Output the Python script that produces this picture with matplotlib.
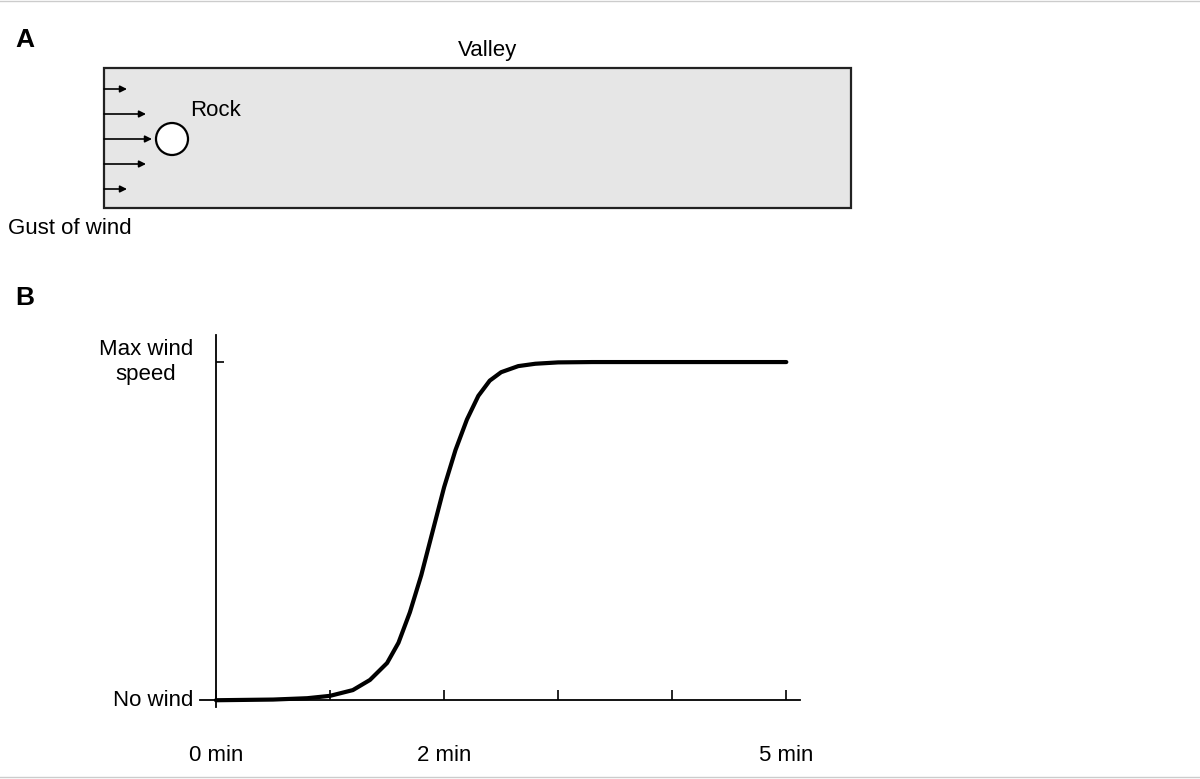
import numpy as np
import matplotlib.pyplot as plt
from matplotlib.patches import Rectangle, Circle

plt.rcParams['font.family'] = ['Liberation Sans', 'DejaVu Sans']

# wind speed curve (minutes, fraction of max)
t_min = [0.0, 0.5, 0.8, 1.0, 1.2, 1.35, 1.5, 1.6, 1.7, 1.8, 1.9, 2.0, 2.1,
         2.2, 2.3, 2.4, 2.5, 2.65, 2.8, 3.0, 3.3, 3.7, 4.2, 5.0]
speed = [0.0, 0.002, 0.006, 0.013, 0.03, 0.06, 0.11, 0.17, 0.26, 0.37, 0.50,
         0.63, 0.74, 0.83, 0.90, 0.945, 0.97, 0.988, 0.995, 0.999, 1.0, 1.0, 1.0, 1.0]
tick_pos = [0, 1, 2, 3, 4, 5]
tick_lab = ['0 min', '', '2 min', '', '', '5 min']
arrow_y = [89, 114, 139, 164, 189]
arrow_x_end = [127, 146, 152, 146, 127]

W, H = 1200, 779
fig = plt.figure(figsize=(12, 7.79), dpi=100)

# panel A drawn in pixel coordinates
ax = fig.add_axes([0, 0, 1, 1])
ax.set_xlim(0, W)
ax.set_ylim(H, 0)
ax.axis('off')
ax.plot([0, W], [1, 1], color='#cccccc', lw=1)
ax.plot([0, W], [777, 777], color='#cccccc', lw=1)
ax.text(15, 40, 'A', fontsize=19, fontweight='bold', va='center')
ax.text(15, 298, 'B', fontsize=19, fontweight='bold', va='center')
ax.add_patch(Rectangle((104, 68), 747, 140, facecolor='#e6e6e6',
                       edgecolor='#222222', lw=1.6))
ax.text(488, 50, 'Valley', fontsize=16, ha='center', va='center')
ax.add_patch(Circle((172, 139), 16, facecolor='white', edgecolor='black', lw=1.6))
ax.text(190, 110, 'Rock', fontsize=16, va='center')
for y, xe in zip(arrow_y, arrow_x_end):
    ax.annotate('', xy=(xe, y), xytext=(104, y),
                arrowprops=dict(arrowstyle='-|>', color='black', lw=1.2,
                                mutation_scale=10, shrinkA=0, shrinkB=0))
ax.text(8, 228, 'Gust of wind', fontsize=16, va='center')

# panel B
bx = fig.add_axes([200 / W, 1 - 707 / H, 600 / W, (707 - 335) / H])
bx.patch.set_alpha(0)
bx.plot(t_min, speed, color='black', lw=3, solid_capstyle='round')
bx.set_xlim(-0.14, 5.12)
bx.set_ylim(-0.02, 1.08)
for s in ['top', 'right']:
    bx.spines[s].set_visible(False)
bx.spines['left'].set_position(('data', 0))
bx.spines['bottom'].set_position(('data', 0))
bx.spines['left'].set_linewidth(1.3)
bx.spines['bottom'].set_linewidth(1.3)
bx.set_xticks(tick_pos)
bx.set_xticklabels(tick_lab, fontsize=16)
bx.tick_params(axis='x', direction='in', length=7, width=1.2, pad=32)
bx.set_yticks([1])
bx.set_yticklabels([])
bx.tick_params(axis='y', direction='in', length=6, width=1.2)
bx.text(-0.2, 1.0, 'Max wind\nspeed', fontsize=16, ha='right', va='center',
        multialignment='center', linespacing=1.3)
bx.text(-0.2, 0.0, 'No wind', fontsize=16, ha='right', va='center')

fig.savefig('out.png', dpi=100)
